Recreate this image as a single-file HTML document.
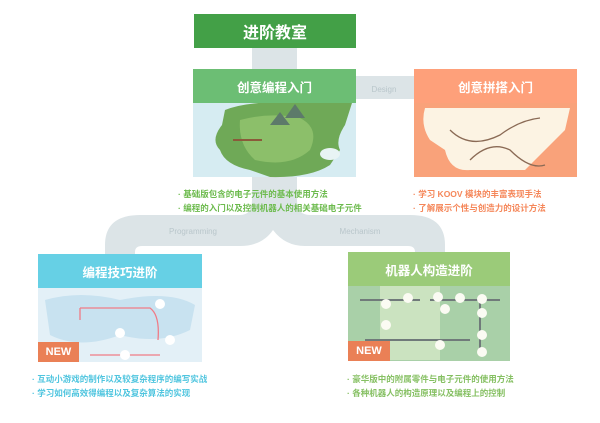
<!DOCTYPE html>
<html><head><meta charset="utf-8"><style>
body{margin:0;width:600px;height:423px;background:#fff;position:relative;overflow:hidden;font-family:"Liberation Sans","Noto Sans CJK SC",sans-serif}
.a{position:absolute}
.h{position:absolute;color:#fff;text-align:center;font-size:12.5px;font-weight:bold;display:flex;align-items:center;justify-content:center}
.b{position:absolute;font-size:8.5px;font-weight:bold;line-height:14px;white-space:nowrap}
.new{position:absolute;background:#ea8056;color:#fff;font-size:11px;font-weight:bold;display:flex;align-items:center;justify-content:center}
</style></head><body>
<svg class="a" style="left:0;top:0" width="600" height="423">
<path d="M105,256 V245 Q105,215 140,215 H240 Q252,215 252,200 V48 H297 V200 Q297,215 310,215 H410 Q445,215 445,245 V256 H415 V252 Q415,246 408,246 H305 Q285,246 273,230 Q262,246 240,246 H142 Q135,246 135,252 V256 Z" fill="#dce4e7"/>
<rect x="356" y="76" width="60" height="23" fill="#dce4e7"/>
<text x="384" y="92" font-size="8" fill="#b9c6cb" text-anchor="middle" font-family="Liberation Sans">Design</text>
<text x="193" y="234" font-size="8" fill="#b9c6cb" text-anchor="middle" font-family="Liberation Sans">Programming</text>
<text x="360" y="234" font-size="8" fill="#b9c6cb" text-anchor="middle" font-family="Liberation Sans">Mechanism</text>
<!-- card1 image -->
<rect x="193" y="103" width="163" height="74" fill="#d6ecf2"/>
<path d="M225,110 Q250,100 300,103 H352 L345,125 Q335,140 340,150 L330,165 Q310,178 270,177 L250,170 Q225,165 220,150 Q210,140 222,125 Z" fill="#6fa957"/>
<path d="M240,120 Q270,112 300,118 Q320,128 310,150 Q290,168 255,160 Q238,145 240,120Z" fill="#8cbf6a"/>
<path d="M285,118 L295,104 L305,118Z M270,125 L280,112 L290,125Z" fill="#5d7a6a"/>
<ellipse cx="330" cy="154" rx="10" ry="6" fill="#e8f4f4"/>
<path d="M233,140 H262" stroke="#8b5a3a" stroke-width="2" fill="none"/>
<!-- card2 image -->
<rect x="414" y="103" width="163" height="74" fill="#f9a27a"/>
<path d="M425,108 H570 L565,130 L545,150 L525,170 H470 Q450,172 445,150 L430,140 Q420,125 425,108Z" fill="#fcf3e3"/>
<path d="M450,130 Q470,150 500,135 Q520,120 540,118 M470,160 Q490,140 510,150 Q530,170 545,165" stroke="#8a6a55" stroke-width="1.3" fill="none"/>
<!-- card3 image -->
<rect x="38" y="288" width="164" height="74" fill="#e3f0f7"/>
<path d="M45,300 Q80,290 120,300 Q170,290 195,305 L190,330 Q160,345 120,335 Q80,350 50,335Z" fill="#c8e2f0"/>
<path d="M80,308 H150 Q160,315 158,340 M80,308 V320 M90,355 H160" stroke="#f07b86" stroke-width="1.3" fill="none"/>
<circle cx="160" cy="304" r="5" fill="#fff"/><circle cx="120" cy="333" r="5" fill="#fff"/><circle cx="125" cy="355" r="5" fill="#fff"/><circle cx="170" cy="340" r="5" fill="#fff"/>
<!-- card4 image -->
<rect x="348" y="286" width="162" height="75" fill="#a9d0a8"/>
<path d="M380,286 H440 V360 H380Z" fill="#cbe3c0"/>
<path d="M360,300 H420 M430,300 H500 M480,300 V355 M365,340 H470" stroke="#707a7a" stroke-width="2" fill="none"/>
<g fill="#fbfbf3"><circle cx="386" cy="304" r="5"/><circle cx="408" cy="298" r="5"/><circle cx="438" cy="297" r="5"/><circle cx="460" cy="298" r="5"/><circle cx="482" cy="299" r="5"/><circle cx="445" cy="309" r="5"/><circle cx="482" cy="313" r="5"/><circle cx="386" cy="325" r="5"/><circle cx="482" cy="335" r="5"/><circle cx="440" cy="345" r="5"/><circle cx="482" cy="352" r="5"/></g>
</svg>
<div class="h" style="left:194px;top:14px;width:162px;height:34px;background:#43a047;font-size:16px">进阶教室</div>
<div class="h" style="left:193px;top:69px;width:163px;height:34px;background:#6cbe74">创意编程入门</div>
<div class="h" style="left:414px;top:69px;width:163px;height:34px;background:#fea07a">创意拼搭入门</div>
<div class="h" style="left:38px;top:254px;width:164px;height:34px;background:#66d0e5">编程技巧进阶</div>
<div class="h" style="left:348px;top:252px;width:162px;height:34px;background:#9bcb79">机器人构造进阶</div>
<div class="new" style="left:38px;top:342px;width:41px;height:20px">NEW</div>
<div class="new" style="left:348px;top:341px;width:42px;height:20px">NEW</div>
<div class="b" style="left:178px;top:187px;color:#6dbb4e">· 基础版包含的电子元件的基本使用方法<br>· 编程的入门以及控制机器人的相关基础电子元件</div>
<div class="b" style="left:413px;top:187px;color:#f5875a">· 学习 KOOV 模块的丰富表现手法<br>· 了解展示个性与创造力的设计方法</div>
<div class="b" style="left:32px;top:372px;color:#4fc5df">· 互动小游戏的制作以及较复杂程序的编写实战<br>· 学习如何高效得编程以及复杂算法的实现</div>
<div class="b" style="left:347px;top:372px;color:#86c063">· 豪华版中的附属零件与电子元件的使用方法<br>· 各种机器人的构造原理以及编程上的控制</div>
</body></html>
